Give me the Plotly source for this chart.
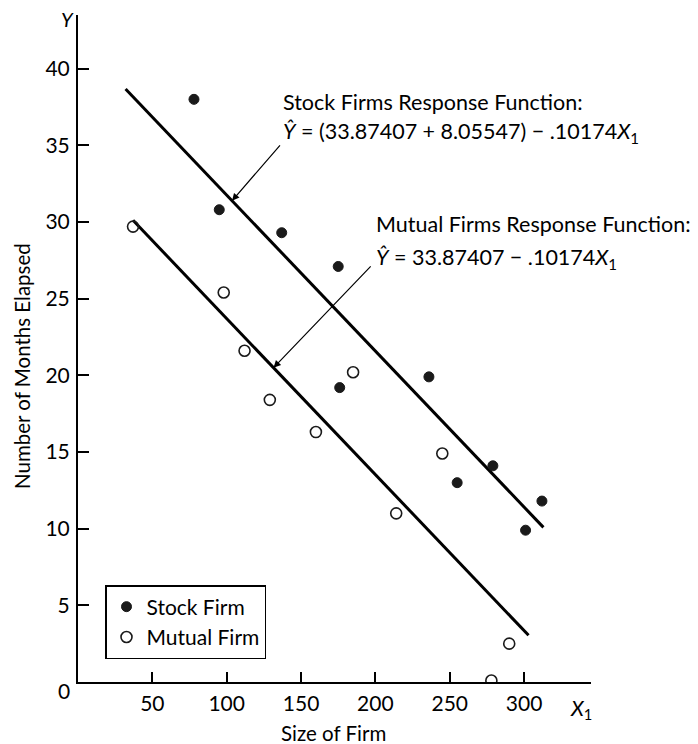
import plotly.graph_objects as go

# Observations: size of firm (X1) and months elapsed (Y)
stock_size = [78, 95, 137, 175, 176, 236, 255, 279, 301, 312]
stock_months = [38.0, 30.8, 29.3, 27.1, 19.2, 19.9, 13.0, 14.1, 9.9, 11.8]

mutual_size = [37, 98, 112, 129, 160, 185, 214, 245, 278, 290]
mutual_months = [29.7, 25.4, 21.6, 18.4, 16.3, 20.2, 11.0, 14.9, 0.1, 2.5]

# Fitted response functions
b0 = 33.87407
b2 = 8.05547
b1 = -0.10174
stock_range = [32, 313]
mutual_range = [37, 303]

x_ticks = [50, 100, 150, 200, 250, 300]
y_ticks = [5, 10, 15, 20, 25, 30, 35, 40]

W, H = 698, 744
L, R, T, B = 78, 107, 15, 62
XMAX, YMAX = 345, 43.5
FONT = "Lato"


def stock_fit(x):
    return (b0 + b2) + b1 * x


def mutual_fit(x):
    return b0 + b1 * x


def px(xp):
    return (xp - L) / (W - L - R)


def py(yp):
    return 1 - (yp - T) / (H - T - B)


fig = go.Figure()

fig.add_trace(go.Scatter(
    x=stock_range, y=[stock_fit(v) for v in stock_range], mode="lines",
    line=dict(color="black", width=3), showlegend=False, hoverinfo="skip"))
fig.add_trace(go.Scatter(
    x=mutual_range, y=[mutual_fit(v) for v in mutual_range], mode="lines",
    line=dict(color="black", width=3), showlegend=False, hoverinfo="skip"))

fig.add_trace(go.Scatter(
    x=stock_size, y=stock_months, mode="markers", name="Stock Firm",
    marker=dict(symbol="circle", size=10, color="#1a1a1a",
                line=dict(color="#1a1a1a", width=1))))
fig.add_trace(go.Scatter(
    x=mutual_size, y=mutual_months, mode="markers", name="Mutual Firm",
    marker=dict(symbol="circle-open", size=11, color="#1a1a1a",
                line=dict(color="#1a1a1a", width=1.6))))


def label(xp, yp, text, size, anchor="center", angle=0):
    return dict(x=px(xp), y=py(yp), xref="paper", yref="paper",
                xanchor=anchor, yanchor="middle", showarrow=False,
                text=text, textangle=angle,
                font=dict(family=FONT, size=size, color="black"))


EQ = 21.5
annotations = [
    # Equation labels
    label(281, 102, "Stock Firms Response Function:", EQ, "left"),
    label(281, 132, "<i>Ŷ</i> = (33.87407 + 8.05547) − .10174<i>X</i><sub>1</sub>", EQ, "left"),
    label(374, 224, "Mutual Firms Response Function:", EQ, "left"),
    label(374, 258, "<i>Ŷ</i> = 33.87407 − .10174<i>X</i><sub>1</sub>", EQ, "left"),
    # Axis symbols, origin label and axis titles
    label(67, 19, "<i>Y</i>", 20),
    label(581, 709, "<i>X</i><sub>1</sub>", 21),
    label(64, 690, "0", 21),
    label(22, 366, "Number of Months Elapsed", 20.5, angle=-90),
    label(333, 733, "Size of Firm", 20.5),
]

# Pointer arrows from the labels to the fitted lines
stock_head_x, mutual_head_x = 103.6, 131.5
annotations += [
    dict(x=stock_head_x, y=stock_fit(stock_head_x), xref="x", yref="y",
         ax=136.7, ay=35.1, axref="x", ayref="y", text="", showarrow=True,
         arrowhead=2, arrowsize=1.2, arrowwidth=1.2, arrowcolor="black"),
    dict(x=mutual_head_x, y=mutual_fit(mutual_head_x), xref="x", yref="y",
         ax=197.8, ay=27.2, axref="x", ayref="y", text="", showarrow=True,
         arrowhead=2, arrowsize=1.2, arrowwidth=1.2, arrowcolor="black"),
]

fig.update_layout(
    width=W, height=H,
    margin=dict(l=L, r=R, t=T, b=B),
    paper_bgcolor="white", plot_bgcolor="white",
    font=dict(family=FONT, size=21, color="black"),
    annotations=annotations,
    legend=dict(x=px(105), y=py(585), xanchor="left", yanchor="top",
                bordercolor="black", borderwidth=1.5, bgcolor="white",
                font=dict(family=FONT, size=21, color="black"),
                tracegroupgap=0),
)

fig.update_xaxes(
    range=[0, XMAX], tickvals=x_ticks, showgrid=False, zeroline=False,
    showline=True, linecolor="black", linewidth=2,
    ticks="inside", ticklen=10, tickwidth=1.5, tickcolor="black",
    ticklabelstandoff=2, tickfont=dict(family=FONT, size=21))
fig.update_yaxes(
    range=[0, YMAX], tickvals=y_ticks, showgrid=False, zeroline=False,
    showline=True, linecolor="black", linewidth=2,
    ticks="inside", ticklen=11, tickwidth=1.5, tickcolor="black",
    ticklabelstandoff=2, tickfont=dict(family=FONT, size=21))

fig.write_html("out.html")
